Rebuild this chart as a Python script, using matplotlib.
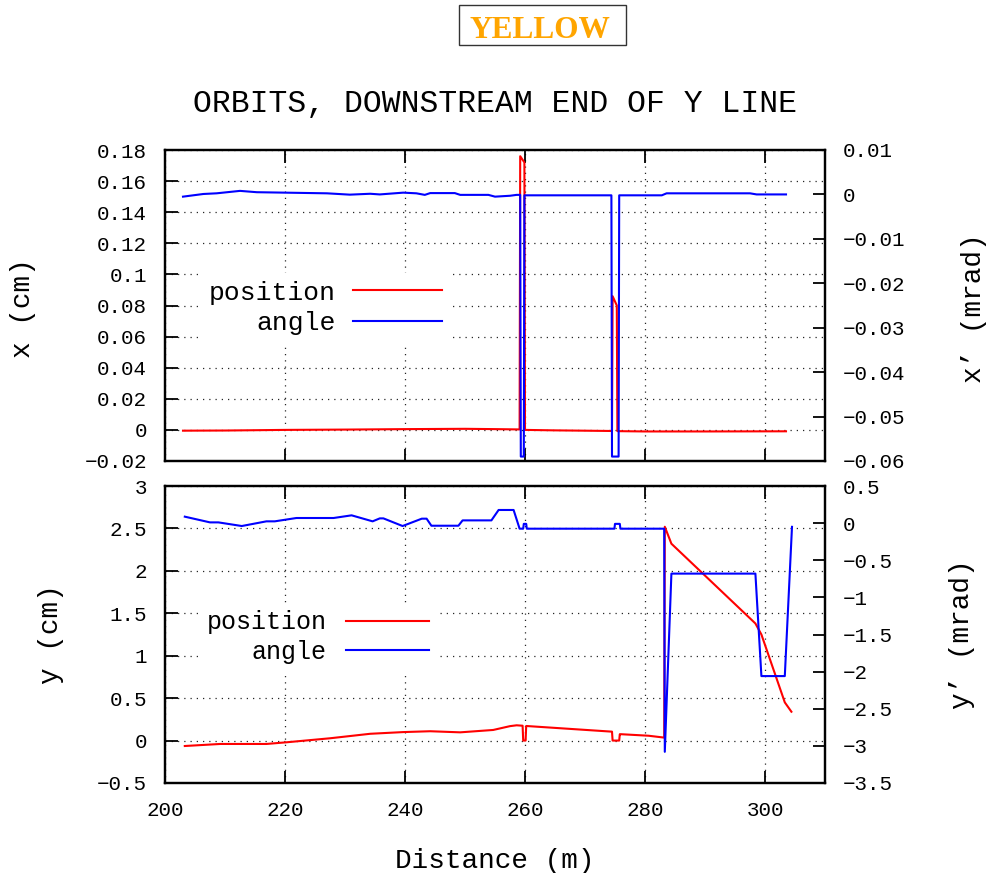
import matplotlib
matplotlib.use("Agg")
import matplotlib.pyplot as plt
from matplotlib.patches import Rectangle
from matplotlib.ticker import FixedLocator, FuncFormatter

plt.rcParams['font.family'] = ['Liberation Mono', 'DejaVu Sans Mono']
plt.rcParams['axes.unicode_minus'] = True

# horizontal plane: position (cm) and angle (mrad) vs distance (m)
s_x_pos = [203.0, 210.0, 220.0, 230.0, 240.0, 250.0, 255.0, 259.1, 259.2, 259.9, 260.0,
           265.0, 274.5, 274.6, 275.3, 275.4, 280.0, 290.0, 303.5]
x_pos = [-0.0005, -0.0004, 0.0, 0.0002, 0.0005, 0.0007, 0.0005, 0.0003, 0.176, 0.172, 0.0,
         -0.0003, -0.0007, 0.086, 0.080, -0.0008, -0.0010, -0.0010, -0.0009]

s_x_ang = [203.0, 206.4, 208.6, 212.5, 215.3, 220.0, 227.0, 230.8, 234.2, 235.8, 239.7,
           241.9, 243.3, 244.2, 248.3, 249.2, 253.9, 255.0, 257.5, 258.6, 259.2, 259.3,
           259.8, 259.9, 274.4, 274.5, 275.6, 275.7, 282.8, 283.6, 297.5, 298.6, 303.5]
x_ang = [-0.0005, 0.0001, 0.00025, 0.0008, 0.0005, 0.0004, 0.00025, -0.00005, 0.00015, 0.0,
         0.0004, 0.00025, -0.0001, 0.0003, 0.0003, -0.0001, -0.0001, -0.0005, -0.0003,
         -0.0001, -0.0001, -0.059, -0.059, -0.0002, -0.0002, -0.059, -0.059, -0.0002,
         -0.0002, 0.00025, 0.00025, 0.0, 0.0]

# vertical plane
s_y_pos = [203.3, 209.2, 216.9, 220.3, 227.5, 234.2, 239.7, 244.2, 249.2, 254.7, 257.5,
           258.6, 259.6, 259.7, 260.1, 260.2, 260.6, 274.5, 274.6, 275.7, 275.8, 276.0,
           280.6, 283.2, 283.3, 284.4, 298.4, 299.4, 303.3, 304.4]
y_pos = [-0.064, -0.04, -0.04, -0.02, 0.027, 0.08, 0.10, 0.11, 0.097, 0.125, 0.17,
         0.18, 0.175, 0.0, 0.0, 0.172, 0.17, 0.105, 0.0, 0.0, 0.075, 0.075,
         0.057, 0.035, 2.52, 2.32, 1.38, 1.25, 0.45, 0.34]

s_y_ang = [203.3, 207.5, 208.9, 212.8, 216.9, 218.3, 221.9, 228.1, 231.1, 234.6, 235.8,
           236.4, 239.6, 242.8, 243.6, 244.4, 248.9, 249.6, 254.4, 255.6, 258.1, 259.1,
           259.7, 259.8, 260.2, 260.3, 274.9, 275.0, 275.8, 275.9, 283.2, 283.3, 284.4,
           298.4, 299.4, 303.3, 304.5]
y_ang = [0.087, 0.010, 0.010, -0.039, 0.024, 0.024, 0.069, 0.069, 0.105, 0.024, 0.064,
         0.064, -0.039, 0.060, 0.060, -0.035, -0.035, 0.037, 0.037, 0.177, 0.177, -0.075,
         -0.075, -0.01, -0.01, -0.075, -0.075, -0.01, -0.01, -0.075, -0.075, -3.08, -0.68,
         -0.68, -2.06, -2.06, -0.05]

s_ticks = [200, 220, 240, 260, 280, 300]
xpos_ticks = [-0.02, 0, 0.02, 0.04, 0.06, 0.08, 0.1, 0.12, 0.14, 0.16, 0.18]
xang_ticks = [-0.06, -0.05, -0.04, -0.03, -0.02, -0.01, 0, 0.01]
ypos_ticks = [-0.5, 0, 0.5, 1, 1.5, 2, 2.5, 3]
yang_ticks = [-3.5, -3, -2.5, -2, -1.5, -1, -0.5, 0, 0.5]

RED = '#ff0000'
BLUE = '#0000ff'
W, H = 989, 873


def fmt(v, pos=None):
    return f"{round(v, 6):g}".replace('-', '\u2212')


def setup(ax, axr, lticks, rticks, show_x):
    ax.set_xlim(200, 310)
    ax.set_ylim(lticks[0], lticks[-1])
    axr.set_ylim(rticks[0], rticks[-1])
    ax.xaxis.set_major_locator(FixedLocator(s_ticks))
    ax.yaxis.set_major_locator(FixedLocator(lticks))
    axr.yaxis.set_major_locator(FixedLocator(rticks))
    for a in (ax.xaxis, ax.yaxis, axr.yaxis):
        a.set_major_formatter(FuncFormatter(fmt))
    ax.tick_params(direction='in', length=9, width=1.3, labelsize=15, pad=13,
                   top=True, right=False, labelbottom=show_x)
    axr.tick_params(axis='y', direction='in', length=9, width=1.3, labelsize=15, pad=13)
    axr.tick_params(axis='x', bottom=False, top=False, labelbottom=False)
    ax.grid(True, color='0.15', linestyle=(0, (1, 4)), linewidth=0.9)
    for sp in list(ax.spines.values()) + list(axr.spines.values()):
        sp.set_linewidth(1.6)


fig = plt.figure(figsize=(W / 100, H / 100), dpi=100)

# top panel: horizontal orbit
ax1 = fig.add_axes([165 / W, 1 - 461 / H, 660 / W, 311 / H])
ax1r = ax1.twinx()
lp1, = ax1.plot(s_x_pos, x_pos, color=RED, lw=1.5)
la1, = ax1r.plot(s_x_ang, x_ang, color=BLUE, lw=1.5)
setup(ax1, ax1r, xpos_ticks, xang_ticks, False)
ax1.set_ylabel('x (cm)', fontsize=20)
ax1.yaxis.set_label_coords(-0.196, 0.49)
ax1r.set_ylabel('x\u2019 (mrad)', fontsize=20)
ax1r.yaxis.set_label_coords(1.206, 0.49)
leg1 = ax1.legend([lp1, la1], ['position', 'angle'], loc='center',
                  bbox_to_anchor=(325 / W, 1 - 308 / H), bbox_transform=fig.transFigure,
                  markerfirst=False, fontsize=19, handlelength=3.35, handletextpad=0.68,
                  labelspacing=0.26, borderpad=0.3, fancybox=False, framealpha=1)
leg1.get_frame().set_linewidth(0)

# bottom panel: vertical orbit
ax2 = fig.add_axes([165 / W, 1 - 783 / H, 660 / W, 297 / H])
ax2r = ax2.twinx()
lp2, = ax2.plot(s_y_pos, y_pos, color=RED, lw=1.5)
la2, = ax2r.plot(s_y_ang, y_ang, color=BLUE, lw=1.5)
setup(ax2, ax2r, ypos_ticks, yang_ticks, True)
ax2.set_xlabel('Distance (m)', fontsize=20, labelpad=20)
ax2.set_ylabel('y (cm)', fontsize=20)
ax2.yaxis.set_label_coords(-0.153, 0.5)
ax2r.set_ylabel('y\u2019 (mrad)', fontsize=20)
ax2r.yaxis.set_label_coords(1.188, 0.5)
leg2 = ax2.legend([lp2, la2], ['position', 'angle'], loc='center',
                  bbox_to_anchor=(318 / W, 1 - 637 / H), bbox_transform=fig.transFigure,
                  markerfirst=False, fontsize=18, handlelength=3.35, handletextpad=0.75,
                  labelspacing=0.22, borderpad=0.3, fancybox=False, framealpha=1)
leg2.get_frame().set_linewidth(0)

fig.text(0.501, 1 - 104 / H, 'ORBITS, DOWNSTREAM END OF Y LINE', fontsize=22.6,
         ha='center', va='center')

# beam label box
fig.add_artist(Rectangle((459 / W, 1 - 45 / H), 167 / W, 40 / H, transform=fig.transFigure,
                         fill=False, edgecolor='#333333', linewidth=1))
fig.text(540 / W, 1 - 30 / H, 'YELLOW', family='Liberation Serif', weight='bold',
         color='#ffa500', fontsize=22.5, ha='center', va='center')

fig.savefig('out.png', dpi=100)
